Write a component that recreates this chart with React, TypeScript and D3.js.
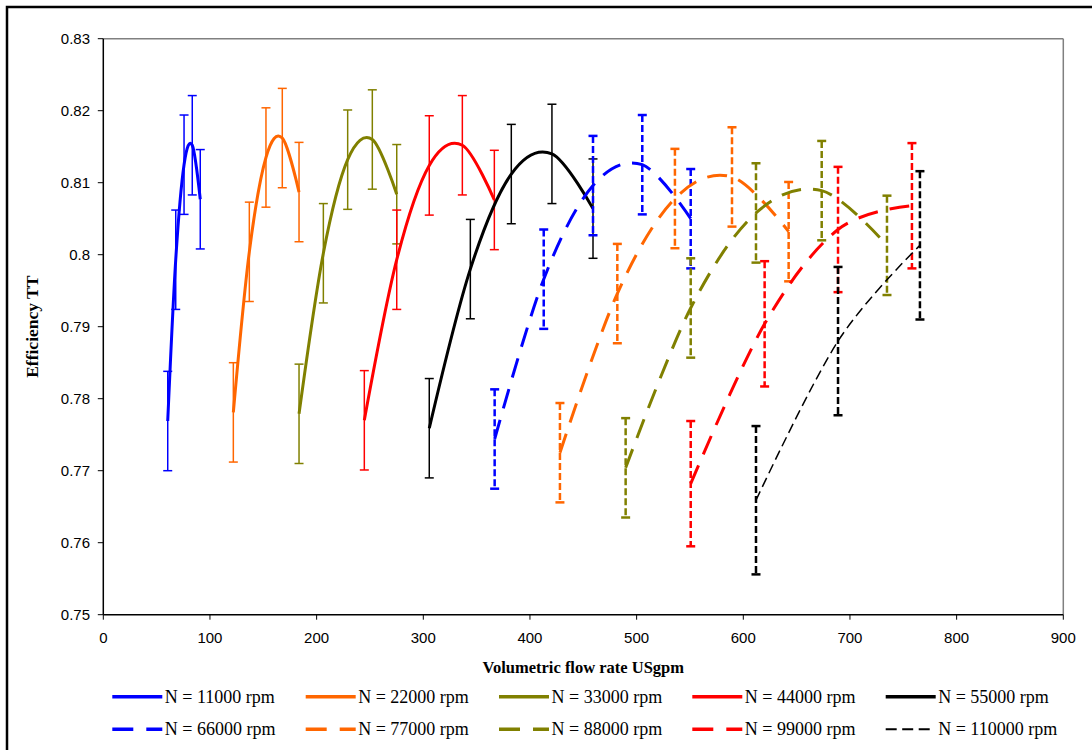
import React from "react";
import * as d3 from "d3";

// ---- data ----
const seriesNames = [
  "N = 11000 rpm", "N = 22000 rpm", "N = 33000 rpm", "N = 44000 rpm", "N = 55000 rpm",
  "N = 66000 rpm", "N = 77000 rpm", "N = 88000 rpm", "N = 99000 rpm", "N = 110000 rpm",
];

const flow11000 = [60.4, 67.9, 75.7, 83.4, 90.9];
const eff11000 = [0.7769, 0.7993, 0.8125, 0.8152, 0.8077];
const flow22000 = [121.9, 136.9, 152.5, 167.8, 183.5];
const eff22000 = [0.7781, 0.8004, 0.8135, 0.8162, 0.8087];
const flow33000 = [183.5, 206.3, 229.1, 252.2, 275.1];
const eff33000 = [0.7779, 0.8002, 0.8132, 0.816, 0.8084];
const flow44000 = [244.7, 275.1, 305.6, 336.6, 366.6];
const eff44000 = [0.777, 0.7993, 0.8124, 0.8152, 0.8076];
const flow55000 = [305.6, 344.1, 382.5, 420.6, 459.1];
const eff55000 = [0.7759, 0.798, 0.8112, 0.814, 0.8064];
const flow66000 = [366.9, 412.9, 459.1, 505.3, 550.7];
const eff66000 = [0.7744, 0.7966, 0.8096, 0.8125, 0.805];
const flow77000 = [428.1, 481.9, 535.9, 589.4, 642.5];
const eff77000 = [0.7725, 0.7946, 0.8078, 0.8108, 0.8032];
const flow88000 = [489.7, 550.7, 611.9, 673.5, 734.7];
const eff88000 = [0.7704, 0.7926, 0.8058, 0.8089, 0.8013];
const flow99000 = [550.7, 620.0, 688.8, 758.1];
const eff99000 = [0.7682, 0.7904, 0.8035, 0.8068];
const flow110000 = [611.9, 688.8, 765.6];
const eff110000 = [0.7659, 0.788, 0.8013];

// error bar half-length per series
const errorHalf = [0.0069, 0.0069, 0.0069, 0.0069, 0.0069, 0.0069, 0.0069, 0.0069, 0.0087, 0.0103];

const xTicks = [0, 100, 200, 300, 400, 500, 600, 700, 800, 900];
const yTicks = [0.75, 0.76, 0.77, 0.78, 0.79, 0.8, 0.81, 0.82, 0.83];

const flows = [flow11000, flow22000, flow33000, flow44000, flow55000, flow66000, flow77000, flow88000, flow99000, flow110000];
const effs = [eff11000, eff22000, eff33000, eff44000, eff55000, eff66000, eff77000, eff88000, eff99000, eff110000];

// ---- styles ----
const colors = ["#0000FF", "#FF6600", "#808000", "#FF0000", "#000000", "#0000FF", "#FF6600", "#808000", "#FF0000", "#000000"];
const lineWidths = [3, 3, 3, 3, 3, 3, 3, 3, 3, 1.5];
const lineDash = [null, null, null, null, null, "20,12", "20,12", "20,12", "20,12", "10,5"];
const errDash = [null, null, null, null, null, "7,3", "7,3", "7,3", "7,3", "7,3"];
const errWidths = [1.5, 1.5, 1.5, 1.5, 1.5, 2.5, 2.5, 2.5, 2.5, 2.5];
const legendDash = [null, null, null, null, null, "21,13", "21,13", "21,13", "21,13", "11,5.5"];
const legendWidths = [3.5, 3.5, 3.5, 3.5, 3.5, 3.5, 3.5, 3.5, 3.5, 2];
const legendLen = [50, 50, 50, 50, 50, 50, 50, 50, 50, 44.5];

const W = 1092;
const H = 750;
const left = 103.3;
const right = 1063.3;
const top = 38.7;
const bottom = 614.7;

export default function App() {
  const x = d3.scaleLinear().domain([0, 900]).range([left, right]);
  const y = d3.scaleLinear().domain([0.75, 0.83]).range([bottom, top]);

  const line = d3
    .line<[number, number]>()
    .x((d) => x(d[0]))
    .y((d) => y(d[1]))
    .curve(d3.curveCatmullRom.alpha(0));

  const legendX = [112.3, 305.7, 499, 692.3, 885.7];
  const legendY = [696.7, 729.3];

  return (
    <svg
      width={W}
      height={H}
      style={{ position: "absolute", left: 0, top: 0, background: "#fff" }}
      fontFamily="'Liberation Serif', 'Times New Roman', serif"
    >
      <rect x={0} y={0} width={W} height={H} fill="#fff" />
      {/* outer frame */}
      <rect x={7} y={7} width={1200} height={900} fill="none" stroke="#000" strokeWidth={2.5} />

      {/* plot border: top & right grey */}
      <line x1={left} x2={right} y1={top} y2={top} stroke="#808080" strokeWidth={1.5} />
      <line x1={right} x2={right} y1={top} y2={bottom} stroke="#808080" strokeWidth={1.5} />

      {/* series */}
      {flows.map((fl, si) => {
        const pts: [number, number][] = fl.map((v, i) => [v, effs[si][i]]);
        const e = errorHalf[si];
        return (
          <g key={si}>
            {pts.map((p, i) => (
              <g key={i} stroke={colors[si]} strokeWidth={errWidths[si]} fill="none">
                <line
                  x1={x(p[0])}
                  x2={x(p[0])}
                  y1={y(p[1] + e)}
                  y2={y(p[1] - e)}
                  strokeDasharray={errDash[si] ?? undefined}
                />
                <line x1={x(p[0]) - 4.5} x2={x(p[0]) + 4.5} y1={y(p[1] + e)} y2={y(p[1] + e)} />
                <line x1={x(p[0]) - 4.5} x2={x(p[0]) + 4.5} y1={y(p[1] - e)} y2={y(p[1] - e)} />
              </g>
            ))}
            <path
              d={line(pts) ?? ""}
              fill="none"
              stroke={colors[si]}
              strokeWidth={lineWidths[si]}
              strokeDasharray={lineDash[si] ?? undefined}
            />
          </g>
        );
      })}

      {/* axes */}
      <line x1={left} x2={left} y1={top} y2={bottom} stroke="#000" strokeWidth={1.5} />
      <line x1={left} x2={right} y1={bottom} y2={bottom} stroke="#000" strokeWidth={1.5} />
      {yTicks.map((t) => (
        <g key={t}>
          <line x1={left - 5.5} x2={left} y1={y(t)} y2={y(t)} stroke="#000" strokeWidth={1} />
          <text
            x={90}
            y={y(t)}
            dy="0.35em"
            textAnchor="end"
            fontFamily="'Liberation Sans', Arial, sans-serif"
            fontSize={15}
            fill="#000"
          >
            {d3.format(".2f")(t).replace(/0$/, "").replace(/\.$/, "")}
          </text>
        </g>
      ))}
      {xTicks.map((t) => (
        <g key={t}>
          <line x1={x(t)} x2={x(t)} y1={bottom} y2={bottom + 5} stroke="#000" strokeWidth={1} />
          <text
            x={x(t)}
            y={643}
            textAnchor="middle"
            fontFamily="'Liberation Sans', Arial, sans-serif"
            fontSize={15}
            fill="#000"
          >
            {t}
          </text>
        </g>
      ))}

      {/* axis titles */}
      <text x={(left + right) / 2} y={673} textAnchor="middle" fontWeight="bold" fontSize={16.5} fill="#000">
        Volumetric flow rate USgpm
      </text>
      <text
        transform={`translate(38, ${(top + bottom) / 2}) rotate(-90)`}
        textAnchor="middle"
        fontWeight="bold"
        fontSize={17.5}
        fill="#000"
      >
        Efficiency TT
      </text>

      {/* legend */}
      {seriesNames.map((name, si) => {
        const lx = legendX[si % 5];
        const ly = legendY[Math.floor(si / 5)];
        return (
          <g key={name}>
            <line
              x1={lx}
              x2={lx + legendLen[si]}
              y1={ly}
              y2={ly}
              stroke={colors[si]}
              strokeWidth={legendWidths[si]}
              strokeDasharray={legendDash[si] ?? undefined}
            />
            <text x={lx + 52.5} y={ly} dy="0.34em" fontSize={18} fill="#000">
              {name}
            </text>
          </g>
        );
      })}
    </svg>
  );
}
